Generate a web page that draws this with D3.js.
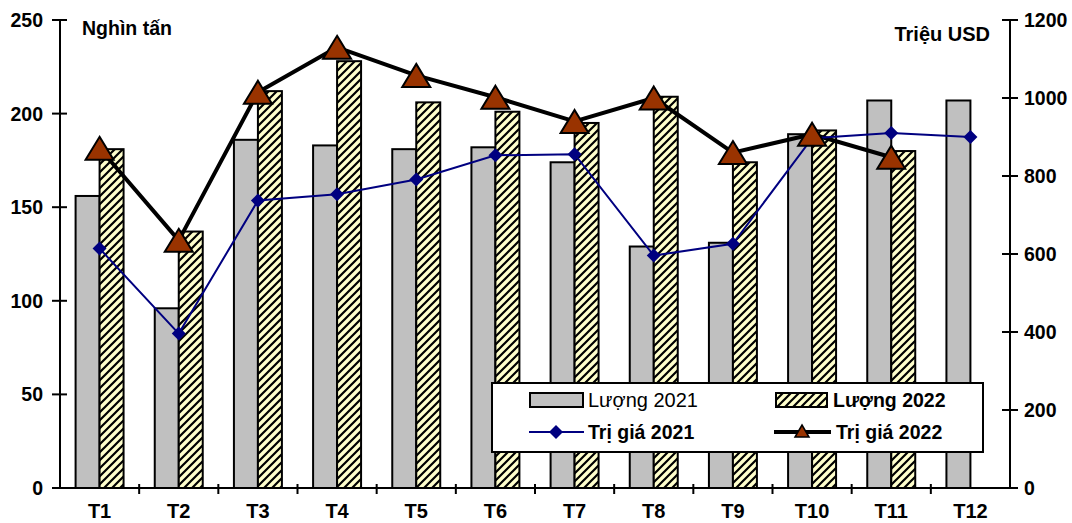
<!DOCTYPE html>
<html>
<head>
<meta charset="utf-8">
<script src="https://cdn.jsdelivr.net/npm/d3@7"></script>
<style>
  html, body { margin: 0; padding: 0; background: #fff; }
  svg { display: block; font-family: "Liberation Sans", Arial, sans-serif; }
</style>
</head>
<body>
<svg id="chart" width="1072" height="523"></svg>
<script>
// Monthly volume (thousand tonnes) and value (million USD)
const months = ["T1","T2","T3","T4","T5","T6","T7","T8","T9","T10","T11","T12"];
const volume2021 = [156, 96, 186, 183, 181, 182, 174, 129, 131, 189, 207, 207];
const volume2022 = [181, 137, 212, 228, 206, 201, 195, 209, 174, 191, 180, null];
const value2021 = [614, 396, 737, 753, 791, 853, 856, 596, 626, 897, 910, 900];
const value2022 = [871, 635, 1015, 1130, 1058, 1002, 940, 1000, 860, 907, 848, null];
const leftTicks = [0, 50, 100, 150, 200, 250];
const rightTicks = [0, 200, 400, 600, 800, 1000, 1200];

const svg = d3.select("#chart");
const plot = { left: 60, right: 1010, top: 20, bottom: 488 };

const x = d3.scaleBand().domain(months).range([plot.left, plot.right]).paddingInner(0).paddingOuter(0);
const xs = d3.scaleBand().domain(["2021", "2022"]).range([0, x.bandwidth()]).paddingOuter(0.65).paddingInner(0);
const yL = d3.scaleLinear().domain([0, 250]).range([plot.bottom, plot.top]);
const yR = d3.scaleLinear().domain([0, 1200]).range([plot.bottom, plot.top]);

// Diagonal hatch for the 2022 bars
const defs = svg.append("defs");
const pat = defs.append("pattern")
  .attr("id", "hatch").attr("patternUnits", "userSpaceOnUse")
  .attr("width", 8).attr("height", 8);
pat.append("rect").attr("width", 8).attr("height", 8).attr("fill", "#FFFFCC");
pat.append("path").attr("d", "M-2,2 L2,-2 M0,8 L8,0 M6,10 L10,6")
  .attr("stroke", "#000").attr("stroke-width", 2.2);

// Bars
const g = svg.append("g");
g.selectAll("rect.v21").data(months.map((m, i) => ({ m, v: volume2021[i] })).filter(d => d.v != null))
  .join("rect").attr("class", "v21")
  .attr("x", d => x(d.m) + xs("2021"))
  .attr("width", xs.bandwidth())
  .attr("y", d => yL(d.v))
  .attr("height", d => yL(0) - yL(d.v))
  .attr("fill", "#C0C0C0").attr("stroke", "#000").attr("stroke-width", 2);

g.selectAll("rect.v22").data(months.map((m, i) => ({ m, v: volume2022[i] })).filter(d => d.v != null))
  .join("rect").attr("class", "v22")
  .attr("x", d => x(d.m) + xs("2022"))
  .attr("width", xs.bandwidth())
  .attr("y", d => yL(d.v))
  .attr("height", d => yL(0) - yL(d.v))
  .attr("fill", "url(#hatch)").attr("stroke", "#000").attr("stroke-width", 2);

// Axes
const axisColor = "#000";
svg.append("line").attr("x1", plot.left).attr("x2", plot.left).attr("y1", plot.top).attr("y2", plot.bottom)
  .attr("stroke", axisColor).attr("stroke-width", 2);
svg.append("line").attr("x1", plot.right).attr("x2", plot.right).attr("y1", plot.top).attr("y2", plot.bottom)
  .attr("stroke", axisColor).attr("stroke-width", 2);
svg.append("line").attr("x1", plot.left).attr("x2", plot.right).attr("y1", plot.bottom).attr("y2", plot.bottom)
  .attr("stroke", axisColor).attr("stroke-width", 2);

const tickSize = "19.5px";

leftTicks.forEach(t => {
  svg.append("line").attr("x1", plot.left - 8).attr("x2", plot.left + 7)
    .attr("y1", yL(t)).attr("y2", yL(t)).attr("stroke", axisColor).attr("stroke-width", 2);
  svg.append("text").attr("x", plot.left - 17).attr("y", yL(t) + 7)
    .attr("text-anchor", "end").attr("font-size", tickSize).attr("font-weight", "bold")
    .text(t);
});
rightTicks.forEach(t => {
  svg.append("line").attr("x1", plot.right - 8).attr("x2", plot.right + 8)
    .attr("y1", yR(t)).attr("y2", yR(t)).attr("stroke", axisColor).attr("stroke-width", 2);
  svg.append("text").attr("x", plot.right + 14).attr("y", yR(t) + 7)
    .attr("text-anchor", "start").attr("font-size", tickSize).attr("font-weight", "bold")
    .text(t);
});
months.forEach((m, i) => {
  const bx = x(m) + x.bandwidth();
  if (i < months.length - 1) {
    svg.append("line").attr("x1", bx).attr("x2", bx).attr("y1", plot.bottom - 4).attr("y2", plot.bottom + 6)
      .attr("stroke", axisColor).attr("stroke-width", 2);
  }
  svg.append("text").attr("x", x(m) + x.bandwidth() / 2).attr("y", 518)
    .attr("text-anchor", "middle").attr("font-size", "20px").attr("font-weight", "bold")
    .text(m);
});

// Axis unit titles
svg.append("text").attr("x", 82).attr("y", 35).attr("font-size", "19.5px").attr("font-weight", "bold").text("Nghìn tấn");
svg.append("text").attr("x", 990).attr("y", 41).attr("text-anchor", "end").attr("font-size", "20px").attr("font-weight", "bold").text("Triệu USD");

// Value lines
const cx = m => x(m) + x.bandwidth() / 2;
const valueLine = d3.line().defined(d => d.v != null).x(d => cx(d.m)).y(d => yR(d.v));
const pts21 = months.map((m, i) => ({ m, v: value2021[i] }));
const pts22 = months.map((m, i) => ({ m, v: value2022[i] }));

svg.append("path").datum(pts22).attr("d", valueLine).attr("fill", "none")
  .attr("stroke", "#000").attr("stroke-width", 4).attr("stroke-linejoin", "round");
svg.append("path").datum(pts21).attr("d", valueLine).attr("fill", "none")
  .attr("stroke", "#000080").attr("stroke-width", 2);

const diamond = s => `M0,${-s} L${s},0 L0,${s} L${-s},0 Z`;
const triangle = (w, h) => `M0,${-h / 2} L${w / 2},${h / 2} L${-w / 2},${h / 2} Z`;

svg.selectAll("path.d21").data(pts21.filter(d => d.v != null)).join("path").attr("class", "d21")
  .attr("d", diamond(7)).attr("transform", d => `translate(${cx(d.m)},${yR(d.v)})`)
  .attr("fill", "#000080");

svg.selectAll("path.t22").data(pts22.filter(d => d.v != null)).join("path").attr("class", "t22")
  .attr("d", triangle(28, 23)).attr("transform", d => `translate(${cx(d.m)},${yR(d.v)})`)
  .attr("fill", "#993300").attr("stroke", "#000").attr("stroke-width", 2).attr("stroke-linejoin", "miter");

// Legend
const lg = svg.append("g");
lg.append("rect").attr("x", 492).attr("y", 383).attr("width", 491).attr("height", 69)
  .attr("fill", "#fff").attr("stroke", "#000").attr("stroke-width", 2);

lg.append("rect").attr("x", 530).attr("y", 393).attr("width", 53).attr("height", 14)
  .attr("fill", "#C0C0C0").attr("stroke", "#000").attr("stroke-width", 2);
lg.append("text").attr("x", 588).attr("y", 407).attr("font-size", "20px").text("Lượng 2021");

lg.append("rect").attr("x", 776).attr("y", 393).attr("width", 51).attr("height", 14)
  .attr("fill", "url(#hatch)").attr("stroke", "#000").attr("stroke-width", 2);
lg.append("text").attr("x", 833).attr("y", 407).attr("font-size", "19.5px").attr("font-weight", "bold").text("Lượng 2022");

lg.append("line").attr("x1", 529).attr("x2", 584).attr("y1", 432).attr("y2", 432)
  .attr("stroke", "#000080").attr("stroke-width", 2);
lg.append("path").attr("d", diamond(7)).attr("transform", "translate(556,432)").attr("fill", "#000080");
lg.append("text").attr("x", 588).attr("y", 439).attr("font-size", "19.5px").attr("font-weight", "bold").text("Trị giá 2021");

lg.append("line").attr("x1", 774).attr("x2", 831).attr("y1", 432).attr("y2", 432)
  .attr("stroke", "#000").attr("stroke-width", 4);
lg.append("path").attr("d", triangle(14, 12)).attr("transform", "translate(802,431)")
  .attr("fill", "#993300").attr("stroke", "#000").attr("stroke-width", 1.5);
lg.append("text").attr("x", 836).attr("y", 439).attr("font-size", "19.5px").attr("font-weight", "bold").text("Trị giá 2022");
</script>
</body>
</html>
